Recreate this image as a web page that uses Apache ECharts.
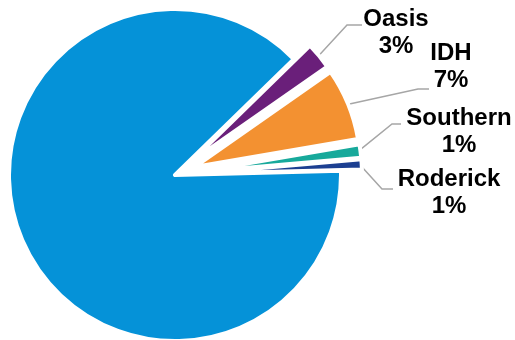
<!DOCTYPE html>
<html>
<head>
<meta charset="utf-8">
<script src="https://cdn.jsdelivr.net/npm/echarts@6/dist/echarts.min.js"></script>
<style>
  html, body { margin: 0; padding: 0; background: #fff; }
  #chart { width: 515px; height: 340px; }
</style>
</head>
<body>
<div id="chart"></div>
<script>
  // 数据 - 顺时针从右上开始
  const names = ['Oasis', 'IDH', 'Southern', 'Roderick', 'Other'];
  const values = [2.6, 7.0, 1.3, 1.0, 88.1];
  const colors = ['#6a1f7a', '#f39131', '#17a99b', '#1c3f91', '#0592d8'];
  const exploded = [true, true, true, true, false];

  const pieCenter = [175, 175];
  const pieRadius = 166;
  const offset = 21;

  // 标签位置 (中心x, 中心y) 以及引导线折点 / 终点
  const labelPos = [
    { x: 396, y: 33, elbow: [347, 25], end: [362, 25] },
    { x: 451, y: 67, elbow: [418, 89], end: [429, 89] },
    { x: 459, y: 132, elbow: [392, 124], end: [401, 124] },
    { x: 449, y: 193, elbow: [382, 189], end: [393, 189] }
  ];

  const chart = echarts.init(document.getElementById('chart'));
  const baseSeries = {
    type: 'pie',
    center: pieCenter,
    radius: pieRadius,
    startAngle: 44.3,
    clockwise: true,
    emphasis: { disabled: true }
  };

  const option = {
    animation: false,
    series: [
      // 扇区 (分离)
      Object.assign({}, baseSeries, {
        selectedMode: 'multiple',
        selectedOffset: offset,
        itemStyle: { borderColor: '#fff', borderWidth: 4 },
        label: { show: false },
        labelLine: { show: false },
        data: names.map((n, i) => ({
          name: n,
          value: values[i],
          selected: exploded[i],
          itemStyle: { color: colors[i] }
        }))
      }),
      // 标签层 (透明)
      Object.assign({}, baseSeries, {
        silent: true,
        itemStyle: { color: 'rgba(0,0,0,0)', borderWidth: 0 },
        label: {
          position: 'outside',
          color: '#000',
          fontFamily: 'Liberation Sans, Arial, sans-serif',
          fontWeight: 'bold',
          fontSize: 24,
          lineHeight: 27,
          formatter: (p) => p.name + '\n' + Math.round(p.percent) + '%'
        },
        labelLine: {
          lineStyle: { color: '#a6a6a6', width: 1.5 }
        },
        labelLayout: (params) => {
          const lp = labelPos[params.dataIndex];
          if (!lp) return {};
          const pts = params.labelLinePoints;
          let start = pts ? pts[0] : null;
          if (start && exploded[params.dataIndex]) {
            // 引导线起点随扇区一起外移
            const vx = start[0] - pieCenter[0], vy = start[1] - pieCenter[1];
            const len = Math.sqrt(vx * vx + vy * vy);
            start = [start[0] + vx / len * (offset - 2), start[1] + vy / len * (offset - 2)];
          }
          return {
            x: lp.x,
            y: lp.y,
            align: 'center',
            verticalAlign: 'middle',
            labelLinePoints: start ? [start, lp.elbow, lp.end] : undefined
          };
        },
        data: names.map((n, i) => ({
          name: n,
          value: values[i],
          label: { show: i < 4 },
          labelLine: { show: i < 4 }
        }))
      })
    ]
  };
  chart.setOption(option);
</script>
</body>
</html>
